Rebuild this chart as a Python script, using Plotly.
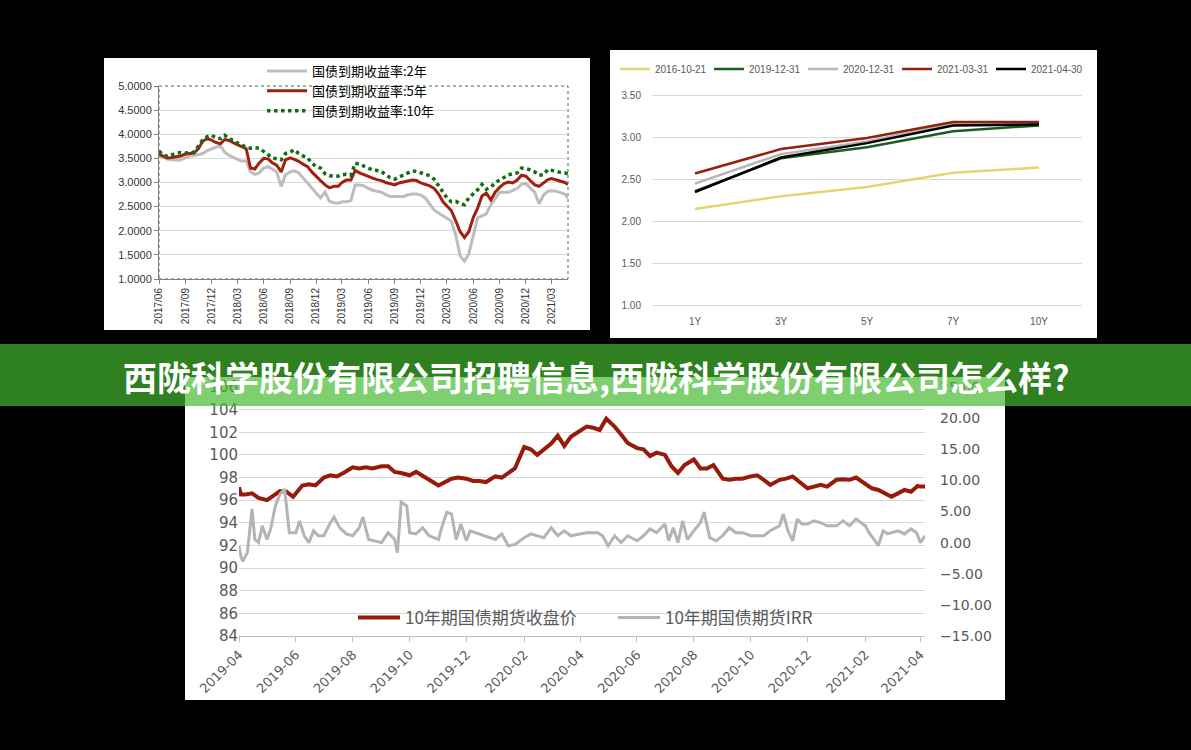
import plotly.graph_objects as go

W, H = 1191, 750
def fx(x): return x / W
def fy(y): return 1 - y / H

CJK = "Noto Sans CJK SC"
LAT = "Liberation Sans"

# ---------------- Panel 1: 国债到期收益率 ----------------
p1_dates = [
    "2017-06-01","2017-06-16","2017-07-01","2017-07-16","2017-08-01","2017-08-16","2017-09-01","2017-09-16",
    "2017-10-01","2017-10-16","2017-11-01","2017-11-16","2017-12-01","2017-12-16","2018-01-01","2018-01-16",
    "2018-02-01","2018-02-16","2018-03-01","2018-03-16","2018-04-01","2018-04-16","2018-05-01","2018-05-16",
    "2018-06-01","2018-06-16","2018-07-01","2018-07-16","2018-08-01","2018-08-16","2018-09-01","2018-09-16",
    "2018-10-01","2018-10-16","2018-11-01","2018-11-16","2018-12-01","2018-12-16","2019-01-01","2019-01-16",
    "2019-02-01","2019-02-16","2019-03-01","2019-03-16","2019-04-01","2019-04-16","2019-05-01","2019-05-16",
    "2019-06-01","2019-06-16","2019-07-01","2019-07-16","2019-08-01","2019-08-16","2019-09-01","2019-09-16",
    "2019-10-01","2019-10-16","2019-11-01","2019-11-16","2019-12-01","2019-12-16","2020-01-01","2020-01-16",
    "2020-02-01","2020-02-16","2020-03-01","2020-03-16","2020-04-01","2020-04-16","2020-05-01","2020-05-16",
    "2020-06-01","2020-06-16","2020-07-01","2020-07-16","2020-08-01","2020-08-16","2020-09-01","2020-09-16",
    "2020-10-01","2020-10-16","2020-11-01","2020-11-16","2020-12-01","2020-12-16","2021-01-01","2021-01-16",
    "2021-02-01","2021-02-16","2021-03-01","2021-03-16","2021-04-01","2021-04-16","2021-04-27",
]
yield_2y = [
    3.54,3.52,3.48,3.47,3.46,3.47,3.52,3.55,3.56,3.58,3.60,3.66,3.70,3.73,3.76,3.63,
    3.56,3.52,3.47,3.44,3.45,3.22,3.17,3.20,3.30,3.33,3.28,3.22,2.92,3.16,3.22,3.24,
    3.20,3.10,2.98,2.90,2.78,2.68,2.80,2.61,2.58,2.57,2.60,2.60,2.62,2.95,2.95,2.93,
    2.88,2.84,2.82,2.80,2.75,2.71,2.71,2.71,2.71,2.74,2.76,2.76,2.74,2.68,2.55,2.43,
    2.37,2.31,2.26,2.20,1.90,1.48,1.37,1.52,1.90,2.27,2.31,2.35,2.54,2.66,2.80,2.80,
    2.80,2.83,2.88,2.96,2.98,2.89,2.80,2.56,2.74,2.82,2.83,2.82,2.79,2.76,2.68,
]
yield_5y = [
    3.58,3.54,3.51,3.52,3.53,3.55,3.59,3.60,3.61,3.70,3.86,3.91,3.88,3.83,3.80,3.89,
    3.87,3.82,3.78,3.74,3.70,3.30,3.28,3.40,3.50,3.49,3.41,3.36,3.22,3.47,3.51,3.48,
    3.44,3.38,3.33,3.22,3.12,3.04,2.95,2.89,2.92,2.92,3.00,3.05,3.05,3.25,3.20,3.16,
    3.13,3.09,3.06,3.04,3.00,2.98,2.95,2.99,3.01,3.02,3.05,3.04,2.99,2.96,2.93,2.88,
    2.76,2.60,2.51,2.42,2.20,1.98,1.86,1.98,2.28,2.47,2.72,2.78,2.64,2.80,2.90,2.98,
    3.01,2.99,3.05,3.15,3.13,3.05,2.95,2.92,2.99,3.06,3.08,3.05,3.02,3.00,2.96,
]
yield_10y = [
    3.65,3.57,3.54,3.57,3.61,3.62,3.61,3.62,3.63,3.75,3.89,3.95,3.98,3.93,3.91,3.98,
    3.90,3.88,3.82,3.78,3.73,3.71,3.72,3.71,3.65,3.58,3.51,3.49,3.47,3.60,3.63,3.68,
    3.60,3.55,3.51,3.40,3.33,3.30,3.18,3.14,3.13,3.13,3.16,3.17,3.15,3.40,3.38,3.34,
    3.29,3.26,3.25,3.23,3.16,3.10,3.07,3.11,3.15,3.20,3.24,3.23,3.20,3.17,3.14,3.07,
    2.93,2.81,2.68,2.60,2.61,2.56,2.54,2.68,2.76,2.85,2.96,2.86,2.90,3.00,3.05,3.10,
    3.16,3.18,3.20,3.30,3.29,3.26,3.22,3.15,3.16,3.27,3.25,3.23,3.21,3.20,3.18,
]
p1_names = ["国债到期收益率:2年", "国债到期收益率:5年", "国债到期收益率:10年"]

# ---------------- Panel 2: 收益率曲线 ----------------
tenors = ["1Y", "3Y", "5Y", "7Y", "10Y"]
curve_dates = ["2016-10-21", "2019-12-31", "2020-12-31", "2021-03-31", "2021-04-30"]
curve_values = {
    "2016-10-21": [2.15, 2.30, 2.41, 2.58, 2.64],
    "2019-12-31": [2.36, 2.75, 2.88, 3.07, 3.14],
    "2020-12-31": [2.45, 2.80, 2.95, 3.16, 3.16],
    "2021-03-31": [2.57, 2.86, 2.99, 3.18, 3.18],
    "2021-04-30": [2.35, 2.76, 2.93, 3.14, 3.15],
}
curve_colors = ["#e3d66e", "#1d5c1d", "#b5b5b5", "#94200f", "#000000"]

# ---------------- Panel 3: 10年期国债期货 ----------------
price_dates = [
    "2019-04-01","2019-04-03","2019-04-08","2019-04-15","2019-04-22","2019-05-01","2019-05-08","2019-05-15",
    "2019-05-22","2019-05-29","2019-06-08","2019-06-15","2019-06-22","2019-07-01","2019-07-08","2019-07-15",
    "2019-07-22","2019-08-01","2019-08-08","2019-08-15","2019-08-22","2019-09-01","2019-09-08","2019-09-15",
    "2019-09-22","2019-10-01","2019-10-08","2019-10-15","2019-10-22","2019-11-01","2019-11-08","2019-11-15",
    "2019-11-22","2019-12-01","2019-12-08","2019-12-15","2019-12-22","2020-01-01","2020-01-08","2020-01-15",
    "2020-01-22","2020-02-01","2020-02-08","2020-02-15","2020-02-22","2020-03-01","2020-03-08","2020-03-15",
    "2020-03-22","2020-04-01","2020-04-08","2020-04-15","2020-04-22","2020-04-29","2020-05-08","2020-05-15",
    "2020-05-22","2020-06-01","2020-06-08","2020-06-15","2020-06-22","2020-07-01","2020-07-08","2020-07-15",
    "2020-07-22","2020-08-01","2020-08-08","2020-08-15","2020-08-22","2020-09-01","2020-09-08","2020-09-15",
    "2020-09-22","2020-10-01","2020-10-08","2020-10-15","2020-10-22","2020-11-01","2020-11-08","2020-11-15",
    "2020-11-22","2020-12-01","2020-12-08","2020-12-15","2020-12-22","2021-01-01","2021-01-08","2021-01-15",
    "2021-01-22","2021-02-01","2021-02-08","2021-02-15","2021-02-22","2021-03-01","2021-03-08","2021-03-15",
    "2021-03-22","2021-03-29","2021-04-01","2021-04-06",
]
close_price = [
    97.15,96.5,96.5,96.6,96.2,96.0,96.4,96.8,
    96.75,96.3,97.3,97.4,97.3,98.0,98.2,98.1,
    98.4,98.9,98.8,98.9,98.8,99.0,99.0,98.5,
    98.4,98.2,98.5,98.1,97.8,97.3,97.6,97.9,
    98.0,97.9,97.7,97.7,97.6,98.1,98.0,98.4,
    98.8,100.7,100.5,100.0,100.5,101.0,101.7,100.8,
    101.6,102.1,102.5,102.4,102.2,103.2,102.5,101.8,
    101.05,100.6,100.5,99.9,100.2,100.0,99.0,98.4,
    99.1,99.6,98.8,98.8,99.1,97.9,97.8,97.9,
    97.9,98.1,98.2,97.8,97.35,97.8,97.9,98.1,
    97.65,97.05,97.2,97.35,97.2,97.8,97.85,97.8,
    98.0,97.5,97.05,96.9,96.6,96.3,96.6,96.9,
    96.75,97.25,97.2,97.2,
]
irr_dates = [
    "2019-04-01","2019-04-03","2019-04-05","2019-04-10","2019-04-15","2019-04-18","2019-04-22","2019-04-26",
    "2019-05-01","2019-05-05","2019-05-10","2019-05-15","2019-05-20","2019-05-25","2019-06-01","2019-06-05",
    "2019-06-10","2019-06-15","2019-06-20","2019-06-25","2019-07-01","2019-07-08","2019-07-12","2019-07-18",
    "2019-07-25","2019-08-01","2019-08-08","2019-08-12","2019-08-18","2019-08-25","2019-09-01","2019-09-08",
    "2019-09-15","2019-09-18","2019-09-22","2019-09-28","2019-10-01","2019-10-08","2019-10-15","2019-10-22",
    "2019-11-01","2019-11-05","2019-11-10","2019-11-15","2019-11-20","2019-11-25","2019-12-01","2019-12-05",
    "2019-12-15","2019-12-22","2020-01-01","2020-01-08","2020-01-15","2020-01-22","2020-02-01","2020-02-08",
    "2020-02-15","2020-02-22","2020-03-01","2020-03-08","2020-03-15","2020-03-22","2020-04-01","2020-04-08",
    "2020-04-20","2020-04-25","2020-05-01","2020-05-08","2020-05-15","2020-05-22","2020-06-01","2020-06-08",
    "2020-06-15","2020-06-22","2020-07-01","2020-07-05","2020-07-10","2020-07-15","2020-07-20","2020-07-25",
    "2020-08-01","2020-08-08","2020-08-12","2020-08-18","2020-08-25","2020-09-01","2020-09-08","2020-09-15",
    "2020-09-22","2020-10-01","2020-10-08","2020-10-15","2020-10-22","2020-11-01","2020-11-05","2020-11-10",
    "2020-11-15","2020-11-20","2020-11-25","2020-12-01","2020-12-08","2020-12-15","2020-12-22","2021-01-01",
    "2021-01-08","2021-01-15","2021-01-22","2021-02-01","2021-02-05","2021-02-10","2021-02-15","2021-02-20",
    "2021-02-25","2021-03-01","2021-03-08","2021-03-15","2021-03-22","2021-03-28","2021-04-01","2021-04-06",
]
irr_values = [
    -0.5,-2.2,-3.0,-1.6,5.4,0.5,0.0,2.7,
    0.5,2.2,5.9,7.8,8.6,1.6,1.6,3.5,
    1.1,0.0,1.9,1.1,1.1,3.2,4.1,2.4,
    1.4,1.1,2.4,4.1,0.5,0.3,0.0,1.6,
    0.5,-1.6,6.5,5.9,1.6,1.4,2.4,1.1,
    0.5,2.7,4.9,4.6,0.5,3.0,0.3,1.9,
    1.4,1.1,0.5,1.4,-0.5,-0.3,0.8,1.4,
    1.1,0.8,2.4,1.1,1.9,1.1,1.4,1.6,
    1.6,1.1,-0.5,1.1,0.0,1.1,0.3,1.1,
    2.2,1.6,3.0,0.3,2.4,0.0,3.5,0.5,
    1.9,3.2,4.9,0.8,0.3,1.1,2.4,1.6,
    1.6,1.1,1.1,1.1,1.9,2.7,4.6,1.9,
    0.3,3.8,3.0,3.0,3.5,3.2,2.7,2.7,
    3.5,2.7,3.8,2.7,1.6,0.5,-0.5,1.9,
    1.4,1.6,1.9,1.4,2.2,1.6,0.0,1.1,
]
p3_names = ["10年期国债期货收盘价", "10年期国债期货IRR"]

fig = go.Figure()

# Panel 1 traces
fig.add_trace(go.Scatter(x=p1_dates, y=yield_2y, name=p1_names[0], mode="lines",
                         line=dict(color="#bdbdbd", width=3), xaxis="x", yaxis="y", legend="legend"))
fig.add_trace(go.Scatter(x=p1_dates, y=yield_5y, name=p1_names[1], mode="lines",
                         line=dict(color="#a0200f", width=3), xaxis="x", yaxis="y", legend="legend"))
fig.add_trace(go.Scatter(x=p1_dates, y=yield_10y, name=p1_names[2], mode="lines",
                         line=dict(color="#136b13", width=3.5, dash="dot"), xaxis="x", yaxis="y", legend="legend"))

# Panel 2 traces
for d, c in zip(curve_dates, curve_colors):
    fig.add_trace(go.Scatter(x=tenors, y=curve_values[d], name=d, mode="lines",
                             line=dict(color=c, width=2.5), xaxis="x2", yaxis="y2", legend="legend2"))

# Panel 3 traces
fig.add_trace(go.Scatter(x=price_dates, y=close_price, name=p3_names[0], mode="lines",
                         line=dict(color="#961b0a", width=4), xaxis="x3", yaxis="y3", legend="legend3"))
fig.add_trace(go.Scatter(x=irr_dates, y=irr_values, name=p3_names[1], mode="lines",
                         line=dict(color="#b4b4b4", width=3), xaxis="x3", yaxis="y4", legend="legend3"))

shapes = [
    dict(type="rect", xref="paper", yref="paper", x0=fx(104), x1=fx(590), y0=fy(330), y1=fy(58),
         fillcolor="white", line=dict(width=0), layer="below"),
    dict(type="rect", xref="paper", yref="paper", x0=fx(610), x1=fx(1097), y0=fy(338), y1=fy(50),
         fillcolor="white", line=dict(width=0), layer="below"),
    dict(type="rect", xref="paper", yref="paper", x0=fx(185), x1=fx(1005), y0=fy(700), y1=fy(377),
         fillcolor="white", line=dict(width=0), layer="below"),
    dict(type="rect", xref="paper", yref="paper", x0=fx(159), x1=fx(568), y0=fy(279), y1=fy(86),
         fillcolor="rgba(0,0,0,0)", line=dict(width=1, color="#2e7d32", dash="dot"), layer="below"),
    dict(type="rect", xref="paper", yref="paper", x0=0, x1=1, y0=fy(406), y1=fy(344),
         fillcolor="rgba(66,186,46,0.69)", line=dict(width=0), layer="above"),
]

fig.update_layout(
    width=W, height=H, margin=dict(l=0, r=0, t=0, b=0, autoexpand=False),
    paper_bgcolor="black", plot_bgcolor="rgba(0,0,0,0)",
    font=dict(family=CJK),
    shapes=shapes,
    xaxis=dict(domain=[fx(159), fx(568)], anchor="y", type="date",
               range=["2017-06-01", "2021-04-27"], tick0="2017-06-01", dtick="M3",
               tickformat="%Y/%m", tickangle=-90, ticks="outside", ticklen=4, tickcolor="#808080",
               showline=True, linecolor="#808080", showgrid=False, zeroline=False,
               tickfont=dict(size=10, color="#333333", family=LAT)),
    yaxis=dict(domain=[fy(279), fy(86)], anchor="x", range=[1, 5], dtick=0.5, tickformat=".4f",
               showgrid=True, gridcolor="#d9d9d9", showline=True, linecolor="#808080",
               ticks="outside", ticklen=4, tickcolor="#808080", zeroline=False,
               tickfont=dict(size=11, color="#333333", family=LAT)),
    xaxis2=dict(domain=[fx(652), fx(1082)], anchor="y2", type="category", range=[-0.5, 4.5],
                showgrid=False, showline=False, zeroline=False,
                tickfont=dict(size=10, color="#595959", family=LAT)),
    yaxis2=dict(domain=[fy(314.4), fy(86.6)], anchor="x2", range=[0.9, 3.6], tick0=1.0, dtick=0.5,
                tickformat=".2f", showgrid=True, gridcolor="#d9d9d9", zeroline=False, showline=False,
                ticklabelstandoff=10,
                tickfont=dict(size=10, color="#595959", family=LAT)),
    xaxis3=dict(domain=[fx(239), fx(925)], anchor="y3", type="date",
                range=["2019-04-01", "2021-04-06"], tick0="2019-04-01", dtick="M2",
                tickformat="%Y-%m", tickangle=-45, ticks="outside", ticklen=5, tickcolor="#bfbfbf",
                showline=True, linecolor="#bfbfbf", showgrid=False, zeroline=False,
                tickfont=dict(size=13, color="#595959", family="DejaVu Sans")),
    yaxis3=dict(domain=[fy(636), fy(387)], anchor="x3", range=[84, 106], dtick=2,
                showgrid=True, gridcolor="#d9d9d9", zeroline=False, showline=False,
                tickfont=dict(size=15, color="#595959", family="DejaVu Sans")),
    yaxis4=dict(overlaying="y3", anchor="x3", side="right", range=[-15, 25], dtick=5,
                tickformat=".2f", showgrid=False, zeroline=False, showline=False,
                ticklabelstandoff=14,
                tickfont=dict(size=14, color="#595959", family="DejaVu Sans")),
    legend=dict(x=fx(262), y=fy(91), xanchor="left", yanchor="middle", orientation="v",
                bgcolor="rgba(0,0,0,0)", font=dict(size=13, color="#000000", family=CJK),
                tracegroupgap=0, itemwidth=40),
    legend2=dict(x=fx(615), y=fy(69), xanchor="left", yanchor="middle", orientation="h",
                 bgcolor="rgba(0,0,0,0)", font=dict(size=10, color="#595959", family=LAT),
                 itemwidth=30, entrywidth=49, entrywidthmode="pixels"),
    legend3=dict(x=fx(353), y=fy(618), xanchor="left", yanchor="middle", orientation="h",
                 bgcolor="rgba(0,0,0,0)", font=dict(size=17, color="#595959", family=CJK),
                 itemwidth=42, entrywidth=203, entrywidthmode="pixels"),
    annotations=[
        dict(text="<b>西陇科学股份有限公司招聘信息,西陇科学股份有限公司怎么样?</b>",
             xref="paper", yref="paper", x=fx(596), y=fy(376), xanchor="center", yanchor="middle",
             showarrow=False, font=dict(size=34, color="white", family=CJK)),
    ],
)

fig.write_html("out.html")
